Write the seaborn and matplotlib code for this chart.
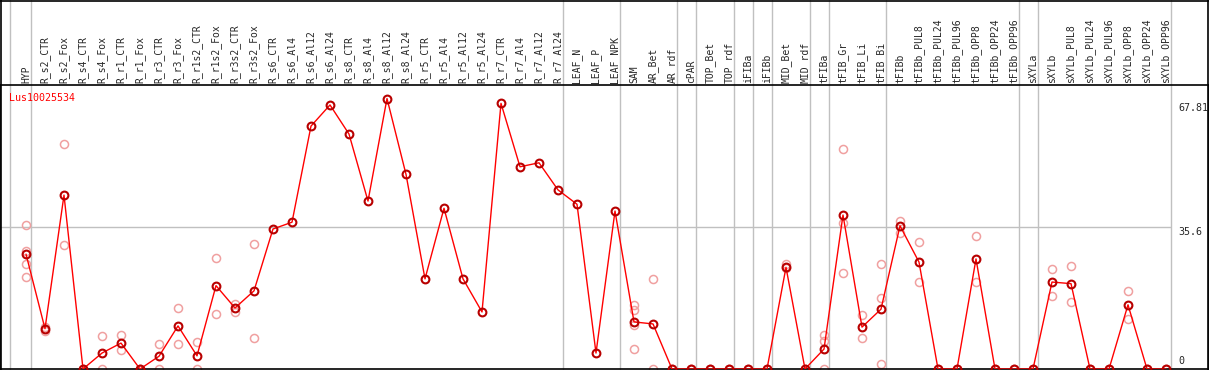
import numpy as np
import pandas as pd
import matplotlib
matplotlib.use("Agg")
import matplotlib.pyplot as plt
from matplotlib.lines import Line2D
import seaborn as sns

gene = "Lus10025534"

samples = [
    "HYP",
    "R_s2_CTR", "R_s2_Fox", "R_s4_CTR", "R_s4_Fox", "R_r1_CTR", "R_r1_Fox",
    "R_r3_CTR", "R_r3_Fox", "R_r1s2_CTR", "R_r1s2_Fox", "R_r3s2_CTR", "R_r3s2_Fox",
    "R_s6_CTR", "R_s6_Al4", "R_s6_Al12", "R_s6_Al24", "R_s8_CTR", "R_s8_Al4",
    "R_s8_Al12", "R_s8_Al24", "R_r5_CTR", "R_r5_Al4", "R_r5_Al12", "R_r5_Al24",
    "R_r7_CTR", "R_r7_Al4", "R_r7_Al12", "R_r7_Al24",
    "LEAF_N", "LEAF_P", "LEAF_NPK",
    "SAM", "AR_Bet", "AR_rdf",
    "cPAR",
    "TOP_Bet", "TOP_rdf",
    "iFIBa",
    "iFIBb",
    "MID_Bet", "MID_rdf",
    "tFIBa",
    "tFIB_Gr", "tFIB_Li", "tFIB_Bi",
    "tFIBb", "tFIBb_PUL8", "tFIBb_PUL24", "tFIBb_PUL96", "tFIBb_OPP8",
    "tFIBb_OPP24", "tFIBb_OPP96",
    "sXYLa",
    "sXYLb", "sXYLb_PUL8", "sXYLb_PUL24", "sXYLb_PUL96", "sXYLb_OPP8",
    "sXYLb_OPP24", "sXYLb_OPP96",
]

# samples per tissue group (grey separators)
group_sizes = [1, 28, 3, 3, 1, 2, 1, 1, 2, 1, 3, 7, 1, 7]

means = [
    28.8,
    10.1, 43.6, 0.0, 4.0, 6.5, 0.0, 3.2, 10.8, 3.3, 20.9, 15.3, 19.6,
    35.1, 36.8, 60.9, 66.2, 58.9, 42.1, 67.81, 48.8,
    22.6, 40.3, 22.6, 14.3, 66.6, 50.7, 51.7, 44.9,
    41.3, 4.0, 39.6,
    11.8, 11.3, 0.0,
    0.0,
    0.0, 0.0,
    0.0,
    0.0,
    25.5, 0.0,
    5.0,
    38.6, 10.5, 15.0,
    35.9, 26.8, 0.0, 0.0, 27.6, 0.0, 0.0,
    0.0,
    21.8, 21.4, 0.0, 0.0, 16.1, 0.0, 0.0,
]

replicates = [
    [36.1, 29.5, 26.4, 23.0],
    [10.6, 9.6], [56.3, 31.0], [0.0, 0.0], [8.2, 0.0], [8.6, 4.8], [0.0, 0.0],
    [6.3, 0.0], [15.3, 6.3], [6.8, 0.0], [27.8, 13.8], [16.3, 14.4], [31.4, 7.8],
    [], [], [], [], [], [], [], [],
    [], [], [], [], [], [], [], [],
    [], [], [],
    [16.1, 14.9, 11.1, 5.0], [22.5, 0.0], [0.0, 0.0],
    [0.0, 0.0],
    [0.0, 0.0], [0.0, 0.0],
    [0.0, 0.0],
    [0.0, 0.0],
    [26.3, 25.3], [0.0, 0.0],
    [8.6, 7.0, 0.0],
    [55.1, 36.7, 24.0], [13.5, 7.8], [26.3, 17.8, 1.25],
    [37.1, 34.2], [31.8, 21.8], [0.0, 0.0], [0.0, 0.0], [33.4, 21.8], [0.0, 0.0], [0.0, 0.0],
    [0.0, 0.0],
    [25.0, 18.4], [25.9, 16.9], [0.0, 0.0], [0.0, 0.0], [19.6, 12.5], [0.0, 0.0], [0.0, 0.0],
]

y_ticks = [0, 35.6, 67.81]
y_top = 71.2

mean_df = pd.DataFrame({"pos": np.arange(len(samples)), "sample": samples, "expr": means})
rep_df = pd.DataFrame(
    [(i, v) for i, reps in enumerate(replicates) for v in reps],
    columns=["pos", "expr"],
)

sns.set_style("white")
plt.rcParams["font.family"] = ["DejaVu Sans Mono"]

W, H = 1209, 370
fig = plt.figure(figsize=(W / 100, H / 100), dpi=100)
ax = fig.add_axes([0, 1 / H, 1, 284 / H])

step = 19.0
x0 = 26
ax.set_xlim((0 - x0) / step, (W - x0) / step)
ax.set_ylim(0, y_top)

grey = "#c0c0c0"
# group separators, running up through the label band
ext = 369 / 284
seps = [-0.84] + [c - 1 + 0.24 for c in np.cumsum(group_sizes)]
for s in seps:
    ax.axvline(s, ymin=0, ymax=ext, color=grey, lw=1, clip_on=False, zorder=1)
ax.hlines(35.6, ax.get_xlim()[0], seps[-1], color=grey, lw=1, zorder=1)

sns.lineplot(
    data=rep_df, x="pos", y="expr", estimator=None, ax=ax,
    linestyle="", marker="o", markersize=5.8, markerfacecolor="none",
    markeredgecolor="#f0a0a0", markeredgewidth=1.1, zorder=2,
)
sns.lineplot(
    data=mean_df, x="pos", y="expr", estimator=None, ax=ax,
    color="red", lw=1, marker="o", markersize=5.6, markerfacecolor="none",
    markeredgecolor="#b80000", markeredgewidth=1.5, zorder=3,
)

ax.xaxis.tick_top()
ax.set_xticks(mean_df["pos"])
ax.set_xticklabels(samples, rotation=90, fontsize=7)
ax.tick_params(axis="x", length=0, pad=1.5)
ax.set_yticks([])
ax.set_xlabel("")
ax.set_ylabel("")

for side in ["left", "top", "bottom", "right"]:
    ax.spines[side].set_visible(True)
    ax.spines[side].set_color("black")
    ax.spines[side].set_linewidth(1.2)

ax.text(9 / W, 0.972, gene, transform=ax.transAxes, color="red",
        fontsize=7.2, ha="left", va="top")

tr = ax.get_yaxis_transform()
xr = 1178 / W
ax.text(xr, y_ticks[2] - 1.0, f"{y_ticks[2]:g}", transform=tr, fontsize=7.2, ha="left", va="top")
ax.text(xr, y_ticks[1], f"{y_ticks[1]:g}", transform=tr, fontsize=7.2, ha="left", va="top")
ax.text(xr, y_ticks[0] + 0.7, f"{y_ticks[0]:g}", transform=tr, fontsize=7.2, ha="left", va="bottom")

# outer frame around the label band
fig.add_artist(Line2D([0, 1], [1 - 0.6 / H, 1 - 0.6 / H], transform=fig.transFigure, color="black", lw=1.2))
fig.add_artist(Line2D([0.6 / W, 0.6 / W], [0, 1], transform=fig.transFigure, color="black", lw=1.2))
fig.add_artist(Line2D([1 - 0.6 / W, 1 - 0.6 / W], [0, 1], transform=fig.transFigure, color="black", lw=1.2))

fig.savefig("out.png", dpi=100)
plt.close(fig)
